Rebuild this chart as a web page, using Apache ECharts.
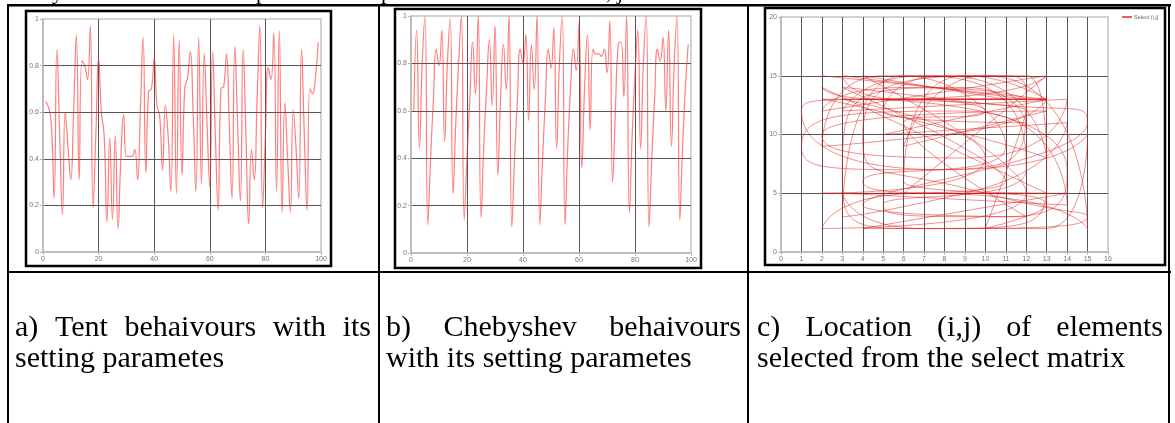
<!DOCTYPE html>
<html>
<head>
<meta charset="utf-8">
<script src="https://cdn.jsdelivr.net/npm/echarts@6/dist/echarts.min.js"></script>
<style>
html,body{margin:0;padding:0;background:#fff;}
#c{width:1175px;height:423px;}
</style>
</head>
<body>
<div id="c"></div>
<script>
// ---- data ----
const tentValues = [0.645,0.62,0.55,0.23,0.87,0.5,0.16,0.6,0.45,0.31,
  0.6,0.93,0.31,0.82,0.8,0.74,0.97,0.19,0.5,0.83,
  0.6,0.5,0.13,0.49,0.14,0.5,0.1,0.4,0.59,0.41,
  0.41,0.41,0.44,0.31,0.6,0.92,0.34,0.69,0.7,0.83,
  0.63,0.58,0.35,0.63,0.5,0.26,0.93,0.25,0.91,0.33,
  0.7,0.75,0.86,0.6,0.26,0.92,0.29,0.85,0.55,0.28,
  0.86,0.5,0.18,0.7,0.71,0.85,0.55,0.23,0.88,0.55,
  0.22,0.87,0.5,0.12,0.44,0.31,0.65,0.97,0.19,0.5,
  0.79,0.74,0.94,0.26,0.95,0.17,0.64,0.4,0.17,0.61,
  0.45,0.23,0.87,0.5,0.18,0.7,0.68,0.75,0.9];
const chebValues = [0.6,0.94,0.44,0.8,1.0,0.12,0.4,0.65,0.86,0.79,
  0.94,0.47,0.8,0.99,0.25,0.55,0.8,1.0,0.14,0.4,
  0.65,0.89,0.67,1.0,0.15,0.45,0.7,0.9,0.62,0.96,
  0.33,0.65,0.88,0.69,1.0,0.11,0.4,0.65,0.86,0.8,
  0.92,0.56,0.88,0.69,1.0,0.12,0.4,0.65,0.86,0.78,
  0.95,0.44,0.8,1.0,0.12,0.45,0.7,0.86,0.77,0.97,
  0.36,0.7,0.92,0.52,0.86,0.84,0.84,0.83,0.86,0.76,
  0.98,0.3,0.6,0.88,0.89,0.66,1.0,0.17,0.5,0.75,
  0.94,0.44,0.8,1.0,0.11,0.4,0.65,0.86,0.81,0.91,
  0.6,0.94,0.45,0.8,1.0,0.14,0.45,0.7,0.88];
const selectI = [2,13,6,3,12,6,2,13,5,2,13,6,9,13,3,10,2,14,4,13,
  15,8,1,6,11,4,12,2,7,15,10,6,13,2,9,14,3,7,12,5,
  11,14,4,6,13,8,2,5,12,13,7,3,14,9,1,6,12,11,4,10,
  15,6,3,9,12,5,8,13,7,2,12,10,13,4,11,6,3,9,14,5,
  13,7,10,6,12,4,15,8,3,11,6,13];
const selectJ = [15,13,13,15,13,14,12,15,13,14,5,6,15,13,13,8,5,5,2,2,
  10,7,12,13,13,15,5,2,5,2,15,9,12,10,8,13,12,15,7,4,
  3,7,13,13,13,10,9,15,15,6,2,5,4,12,9,7,13,15,10,5,
  3,2,7,14,11,12,15,8,11,13,12,2,4,6,9,15,3,5,11,10,
  13,13,12,11,3,4,11,13,14,6,5,15];
const legendName = 'Select (i,j)';
const captions = [
  {first: ['a)','Tent','behaivours','with','its'], second: 'setting parametes', x0: 15, x1: 371},
  {first: ['b)','Chebyshev','behaivours'], second: 'with its setting parametes', x0: 386, x1: 741},
  {first: ['c)','Location','(i,j)','of','elements'], second: 'selected from the select matrix', x0: 757, x1: 1163}
];
const topFragments = [{x: 52, t: 'y'}, {x: 256, t: 'p'}, {x: 381, t: 'p'}, {x: 606, t: ', j'}];

// ---- build ----
const tentData = tentValues.map((v, i) => [i + 1, v]);
const chebData = chebValues.map((v, i) => [i + 1, v]);
const selData = selectI.map((v, i) => [v, selectJ[i]]);

const chart = echarts.init(document.getElementById('c'), null, {renderer: 'canvas'});

const capFont = 30;
const fontFamily = "'Liberation Serif','Times New Roman',serif";
const mctx = document.createElement('canvas').getContext('2d');
mctx.font = capFont + 'px ' + fontFamily;

const graphics = [];
const black = '#000';
function bar(x, y, w, h) { graphics.push({type: 'rect', shape: {x, y, width: w, height: h}, style: {fill: black}, z: 100}); }
bar(7, 4, 1164, 2.5);
bar(7, 4, 2, 419);
bar(1168, 4, 2, 419);
bar(378, 4, 2, 419);
bar(747, 4, 2, 419);
bar(7, 271, 1164, 2);
function frame(x, y, w, h) { graphics.push({type: 'rect', shape: {x, y, width: w, height: h}, style: {fill: 'none', stroke: black, lineWidth: 2.5}, z: 100}); }
frame(26, 11, 305, 255);
frame(395, 9, 306, 259);
frame(765, 8, 400, 257);
captions.forEach(c => {
  const widths = c.first.map(w => mctx.measureText(w).width);
  const total = widths.reduce((a, b) => a + b, 0);
  const gap = (c.x1 - c.x0 - total) / (c.first.length - 1);
  let x = c.x0;
  c.first.forEach((w, k) => {
    graphics.push({type: 'text', x: x, y: 328, style: {text: w, font: capFont + 'px ' + fontFamily, fill: black, verticalAlign: 'middle'}, z: 100});
    x += widths[k] + gap;
  });
  graphics.push({type: 'text', x: c.x0, y: 359, style: {text: c.second, font: capFont + 'px ' + fontFamily, fill: black, verticalAlign: 'middle'}, z: 100});
});
topFragments.forEach(f => {
  graphics.push({type: 'text', x: f.x, y: -7, style: {text: f.t, font: '22px ' + fontFamily, fill: black, verticalAlign: 'middle'}, z: 100});
});

const gridCol = '#555';
const axisCol = '#b5b5b5';
const labelStyle = {fontSize: 7, color: '#777', fontFamily: 'Arial, sans-serif'};
function mkAxis(gi, min, max, interval) {
  return {type: 'value', gridIndex: gi, min, max, interval,
    axisLine: {show: true, lineStyle: {color: axisCol, width: 1.5}},
    axisTick: {show: true, length: 3, lineStyle: {color: axisCol}},
    axisLabel: Object.assign({margin: 4}, labelStyle),
    splitLine: {show: true, showMinLine: false, showMaxLine: false, lineStyle: {color: gridCol, width: 1}}};
}

const option = {
  animation: false,
  backgroundColor: '#fff',
  grid: [
    {left: 43, top: 19, width: 278, height: 233, show: true, borderColor: '#c4c4c4', borderWidth: 1.5, backgroundColor: 'transparent'},
    {left: 411, top: 16, width: 280, height: 237, show: true, borderColor: '#c4c4c4', borderWidth: 1.5, backgroundColor: 'transparent'},
    {left: 781, top: 17, width: 327, height: 235, show: true, borderColor: '#c4c4c4', borderWidth: 1.5, backgroundColor: 'transparent'}
  ],
  xAxis: [mkAxis(0, 0, 100, 20), mkAxis(1, 0, 100, 20), mkAxis(2, 0, 16, 1)],
  yAxis: [mkAxis(0, 0, 1, 0.2), mkAxis(1, 0, 1, 0.2), mkAxis(2, 0, 20, 5)],
  legend: {
    show: true, left: 1122, top: 14, itemWidth: 10, itemHeight: 1.5, itemGap: 2, padding: 0,
    data: [{name: legendName, icon: 'rect'}],
    textStyle: {fontSize: 5.5, color: '#666', padding: [0, 0, 0, -3]}
  },
  series: [
    {type: 'line', xAxisIndex: 0, yAxisIndex: 0, data: tentData, smooth: 0.5, symbol: 'none',
      lineStyle: {color: 'rgba(255,40,40,0.6)', width: 1.2}, itemStyle: {color: '#f22'}},
    {type: 'line', xAxisIndex: 1, yAxisIndex: 1, data: chebData, smooth: 0.5, symbol: 'none',
      lineStyle: {color: 'rgba(255,40,40,0.6)', width: 1.2}, itemStyle: {color: '#f22'}},
    {type: 'line', name: legendName, xAxisIndex: 2, yAxisIndex: 2, data: selData, smooth: 0.9, symbol: 'none',
      lineStyle: {color: 'rgba(225,20,20,0.6)', width: 0.8}, itemStyle: {color: '#e22'}}
  ],
  graphic: graphics
};
chart.setOption(option);
</script>
</body>
</html>
